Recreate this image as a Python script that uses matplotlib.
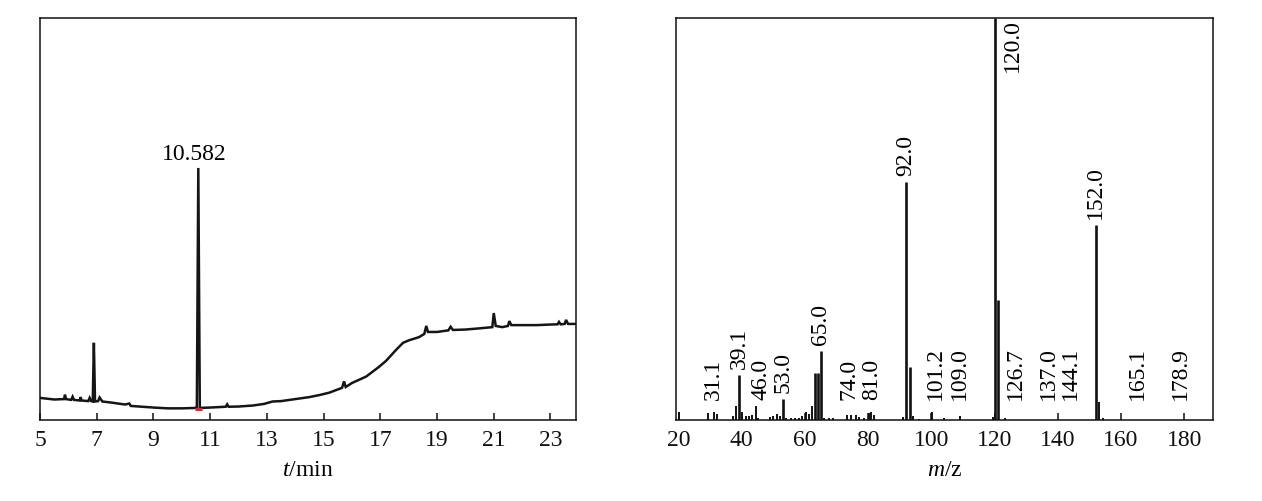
import matplotlib
matplotlib.use("Agg")
import matplotlib.pyplot as plt
import numpy as np

plt.rcParams['font.family'] = ['Liberation Serif', 'DejaVu Serif']
plt.rcParams['mathtext.fontset'] = 'custom'
plt.rcParams['mathtext.rm'] = 'Liberation Serif'
plt.rcParams['mathtext.it'] = 'Liberation Serif:italic'

# ---- Chromatogram (TIC) ----
tic_time = [5.0, 5.5, 5.85, 5.88, 5.92, 6.1, 6.15, 6.2, 6.4, 6.43, 6.47, 6.7, 6.75, 6.8,
            6.86, 6.9, 6.94, 7.05, 7.1, 7.2, 7.5, 8.0, 8.15, 8.2, 9.0, 9.5, 10.0, 10.5,
            10.53, 10.582, 10.635, 11.0, 11.55, 11.6, 11.65, 12.0, 12.5, 12.9, 13.0, 13.2,
            13.5, 14.0, 14.5, 14.85, 15.2, 15.65, 15.72, 15.78, 16.0, 16.5, 16.95, 17.2,
            17.55, 17.8, 18.0, 18.36, 18.55, 18.62, 18.68, 19.0, 19.4, 19.48, 19.56, 20.0,
            20.5, 20.95, 21.0, 21.07, 21.3, 21.5, 21.55, 21.62, 22.0, 22.5, 23.0, 23.25,
            23.3, 23.36, 23.5, 23.55, 23.62, 23.9]
tic_signal = [5.5, 5.1, 5.2, 6.3, 5.2, 5.0, 5.8, 5.0, 4.85, 5.7, 4.85, 4.7, 5.5, 4.7,
              4.6, 19.2, 4.6, 4.7, 5.6, 4.6, 4.35, 3.85, 4.1, 3.5, 3.1, 2.9, 2.9, 3.0,
              3.0, 62.7, 3.0, 3.1, 3.3, 3.9, 3.3, 3.35, 3.6, 4.0, 4.2, 4.6,
              4.7, 5.2, 5.7, 6.2, 6.8, 8.0, 9.6, 8.2, 9.2, 10.8, 13.2, 14.7,
              17.4, 19.2, 19.8, 20.6, 21.4, 23.4, 21.9, 21.9, 22.3, 23.2, 22.4, 22.5,
              22.8, 23.1, 26.6, 23.4, 23.1, 23.4, 24.6, 23.6, 23.6, 23.6, 23.75, 23.8,
              24.4, 23.8, 23.9, 24.9, 23.9, 23.9]
tic_peak_label = "10.582"
tic_peak_time = 10.582
tic_xticks = [5, 7, 9, 11, 13, 15, 17, 19, 21, 23]

# ---- Mass spectrum ----
ms_mz = [20.2, 29.3, 31.1, 32.2, 37.3, 38.1, 39.2, 40.1, 41.3, 42.3, 43.4, 44.5, 45.3,
         49.0, 50.0, 51.0, 52.0, 53.1, 54.0, 55.5, 57.0, 58.2, 59.2, 60.2, 61.3, 62.3,
         63.2, 64.1, 65.1, 66.0, 67.5, 69.0, 73.3, 74.5, 76.0, 77.0, 78.6, 80.2, 80.9,
         81.8, 91.0, 92.1, 93.3, 94.2, 96.0, 100.2, 104.0, 109.0, 119.5, 120.0, 121.1,
         123.4, 152.0, 153.1, 154.3]
ms_int = [2.1, 1.7, 2.1, 1.6, 1.0, 3.5, 11.2, 2.0, 1.0, 1.0, 1.2, 3.5, 0.5,
          0.8, 1.0, 1.5, 1.0, 5.1, 0.5, 0.5, 0.4, 0.5, 1.0, 2.1, 1.6, 3.5,
          11.6, 11.8, 17.2, 0.5, 0.4, 0.4, 1.2, 1.2, 1.2, 0.8, 0.6, 1.7, 2.1,
          1.2, 0.8, 59.3, 13.3, 1.0, 0.3, 2.1, 0.4, 1.0, 0.8, 100.0, 29.9,
          0.5, 48.5, 4.6, 0.5]
ms_labels = ["31.1", "39.1", "46.0", "53.0", "65.0", "74.0", "81.0", "92.0", "101.2",
             "109.0", "120.0", "126.7", "137.0", "144.1", "152.0", "165.1", "178.9"]
ms_xticks = [20, 40, 60, 80, 100, 120, 140, 160, 180]

FS = 17

fig = plt.figure(figsize=(12.62, 5.01), dpi=100)
ax1 = fig.add_axes([40 / 1262, 81 / 501, 536 / 1262, 402 / 501])
ax2 = fig.add_axes([676 / 1262, 81 / 501, 537 / 1262, 402 / 501])

for ax in (ax1, ax2):
    for s in ax.spines.values():
        s.set_linewidth(1.1)
        s.set_color('#111111')
    ax.tick_params(axis='x', direction='in', length=5, width=1.1, pad=7,
                   labelsize=FS, colors='#111111', top=False)
    ax.tick_params(axis='y', left=False, right=False, labelleft=False)

# Left: chromatogram
ax1.plot(tic_time, tic_signal, color='#151515', lw=1.8, solid_joinstyle='miter')
ax1.plot([10.48, 10.72], [2.75, 2.75], color='#e8202a', lw=2.2, solid_capstyle='butt')
ax1.annotate(tic_peak_label, xy=(tic_peak_time, max(tic_signal)), xytext=(-3, 2),
             textcoords='offset points', ha='center', va='bottom', fontsize=FS)
ax1.set_xlim(5, 23.9)
ax1.set_ylim(0, 100)
ax1.set_xticks(tic_xticks)
ax1.set_xlabel(r'$t$/min', fontsize=FS, labelpad=7)

# Right: mass spectrum
mz = np.array(ms_mz)
inten = np.array(ms_int)
ax2.vlines(mz, 0, inten, color='#111111', lw=np.where(inten > 5, 1.9, 1.4))
for lab in ms_labels:
    v = float(lab)
    near = inten[np.abs(mz - v) < 1.6]
    h = near.max() if near.size else 0.0
    if h >= 95:
        ax2.annotate(lab, xy=(v, 100), xytext=(5, -1), textcoords='offset points',
                     rotation=90, rotation_mode='anchor', ha='right', va='top',
                     fontsize=FS)
    else:
        y = max(h + 1.5, 5.0)
        ax2.annotate(lab, xy=(v, y), xytext=(0, 0), textcoords='offset points',
                     rotation=90, rotation_mode='anchor', ha='left', va='center',
                     fontsize=FS)
ax2.set_xlim(19.2, 189.1)
ax2.set_ylim(0, 100)
ax2.set_xticks(ms_xticks)
ax2.set_xlabel(r'$m$/z', fontsize=FS, labelpad=7)

fig.savefig('out.png', dpi=100)
